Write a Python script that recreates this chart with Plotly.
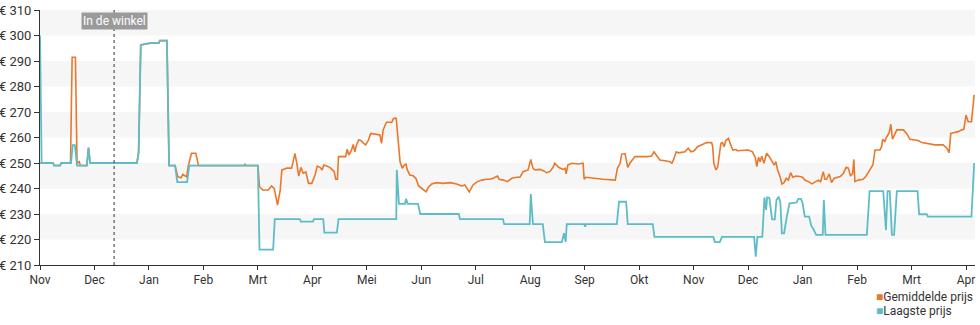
import plotly.graph_objects as go

# Month index: 0 = Nov (first year) ... 17 = Apr (third year)
maand_labels = ["Nov", "Dec", "Jan", "Feb", "Mrt", "Apr", "Mei", "Jun", "Jul",
                "Aug", "Sep", "Okt", "Nov", "Dec", "Jan", "Feb", "Mrt", "Apr"]

# Average price (Gemiddelde prijs)
gem_x = [0.00, 0.24, 0.26, 0.37, 0.39, 0.56, 0.59, 0.65, 0.68, 0.72, 0.74, 0.86, 0.89, 0.92,
         1.78, 1.81, 1.85, 2.02, 2.18, 2.20, 2.33, 2.37, 2.48, 2.53, 2.59, 2.62, 2.69, 2.72,
         2.78, 2.86, 2.91, 3.75, 3.76, 3.78, 4.00, 4.03, 4.09, 4.19, 4.25, 4.30, 4.33, 4.36,
         4.41, 4.44, 4.47, 4.53, 4.62, 4.68, 4.72, 4.75, 4.79, 4.83, 4.88, 4.93, 4.99, 5.05,
         5.09, 5.14, 5.18, 5.21, 5.26, 5.32, 5.37, 5.40, 5.43, 5.46, 5.48, 5.61, 5.64, 5.67,
         5.72, 5.75, 5.78, 5.81, 5.85, 5.89, 5.94, 5.98, 6.03, 6.07, 6.24, 6.27, 6.30, 6.36,
         6.46, 6.49, 6.54, 6.58, 6.61, 6.65, 6.68, 6.72, 6.74, 6.79, 6.85, 6.90, 6.95, 7.01,
         7.09, 7.13, 7.19, 7.28, 7.40, 7.53, 7.65, 7.74, 7.80, 7.88, 7.95, 8.03, 8.11, 8.20,
         8.26, 8.32, 8.40, 8.43, 8.51, 8.58, 8.66, 8.75, 8.81, 8.87, 8.96, 9.01, 9.05, 9.09,
         9.18, 9.24, 9.30, 9.36, 9.42, 9.45, 9.52, 9.60, 9.64, 9.66, 9.69, 9.76, 9.88, 9.97,
         9.99, 10.02, 10.16, 10.34, 10.56, 10.60, 10.65, 10.68, 10.74, 10.79, 10.83, 10.92,
         11.14, 11.23, 11.27, 11.32, 11.38, 11.47, 11.57, 11.60, 11.63, 11.68, 11.72, 11.84,
         11.90, 11.95, 12.01, 12.07, 12.15, 12.24, 12.33, 12.35, 12.37, 12.41, 12.44, 12.47,
         12.50, 12.53, 12.56, 12.59, 12.64, 12.67, 12.72, 12.78, 12.80, 13.00, 13.08, 13.13,
         13.16, 13.19, 13.22, 13.25, 13.29, 13.34, 13.39, 13.43, 13.48, 13.51, 13.54, 13.59,
         13.62, 13.66, 13.70, 13.74, 13.78, 13.82, 13.88, 13.95, 14.00, 14.04, 14.11, 14.17,
         14.23, 14.29, 14.33, 14.38, 14.41, 14.44, 14.49, 14.53, 14.58, 14.63, 14.69, 14.75,
         14.80, 14.84, 14.88, 14.92, 14.94, 14.96, 15.02, 15.11, 15.16, 15.24, 15.29, 15.33,
         15.42, 15.45, 15.47, 15.51, 15.54, 15.59, 15.62, 15.65, 15.68, 15.73, 15.85, 15.91,
         15.97, 16.06, 16.12, 16.19, 16.31, 16.43, 16.58, 16.65, 16.69, 16.72, 16.77, 16.86,
         16.92, 16.96, 17.00, 17.04, 17.10, 17.15]
gem_prijs = [250, 250, 249, 249, 250, 250, 291.5, 291.5, 250, 250.5, 249, 249, 256, 250,
             250, 254, 296.3, 297, 297, 298, 298, 249, 249, 244.6, 244.2, 245.5, 244.6, 248.6,
             253.8, 253.8, 249, 249, 249.6, 249, 249, 240.7, 239.4, 239.4, 241, 240, 236.8, 233.5,
             239.4, 247.3, 247.5, 248, 248, 253.8, 249.2, 244.9, 248.3, 246, 246.5, 242, 242, 245.3,
             248.8, 248.3, 247.3, 249.2, 248.8, 248.3, 247.3, 246.6, 243.6, 243.6, 252.5, 252.5, 255.4, 253.1,
             255.1, 257.3, 254.4, 257.1, 259, 258.8, 257.7, 257.1, 259, 261.6, 261, 257.7, 263, 266,
             266, 267.5, 267.5, 257.7, 250.5, 247.9, 249, 249.6, 247.5, 245.3, 245, 244, 241, 240,
             238.7, 240.5, 241.8, 242.3, 242, 242.3, 241.8, 241, 241.4, 238.7, 241.4, 242.7, 243.3, 243.6,
             243.6, 244, 244.9, 243.6, 243.3, 242.7, 244, 244.4, 244.4, 246.6, 247.3, 251.4, 247.9, 247.3,
             247.5, 247, 246.2, 246.6, 248.3, 249.9, 248.3, 247.5, 247.9, 245.7, 249.2, 249.9, 249.6, 249.9,
             243.6, 244.4, 244, 243.6, 243.3, 247.9, 249.9, 253.5, 253.7, 248.3, 249.9, 252.5,
             252.5, 252.7, 254.4, 252.7, 251.2, 250.9, 250.5, 249.9, 251.2, 254.4, 254, 254.4,
             255.8, 254.4, 254.8, 256.4, 257.1, 258, 258, 256.4, 249.9, 247.3, 248.3, 253.1,
             257.7, 258, 256.4, 258.8, 259.7, 257.7, 255.1, 255.3, 254.8, 255.1, 254.4, 252.2,
             248.6, 252.2, 250.5, 252.7, 249.9, 253.8, 252.5, 250.9, 249.2, 250.5, 247.3, 244.4,
             241.8, 242.3, 244, 243.3, 246.2, 244.4, 244.9, 244.7, 244.4, 243.3, 242.7, 241.8,
             242.7, 243.3, 242.7, 246.6, 243.6, 243.6, 245.7, 242.3, 244, 244.4, 244.7, 246,
             248.3, 248, 244.9, 246, 251.4, 242.7, 243.3, 243.6, 244.7, 247.5, 249.2, 255.1,
             255.1, 256.4, 259.3, 258.4, 260.1, 261.9, 265.2, 259.3, 261, 263, 263, 261.6,
             259.3, 259, 258.8, 258, 257.7, 257.1, 257.1, 255.8, 254, 261.6, 261.9, 262.3,
             263, 263.2, 268.8, 266.2, 266.2, 276.7]

# Lowest price (Laagste prijs)
laag_x = [0.00, 0.03, 0.24, 0.26, 0.37, 0.39, 0.57, 0.60, 0.64, 0.68, 0.86, 0.89, 0.92,
          1.78, 1.81, 1.85, 2.02, 2.18, 2.20, 2.33, 2.37, 2.48, 2.52, 2.70, 2.74, 4.00, 4.03,
          4.28, 4.31, 4.77, 4.79, 5.01, 5.03, 5.20, 5.22, 5.45, 5.48, 6.54, 6.55, 6.59, 6.70,
          6.72, 6.75, 6.94, 6.98, 7.69, 7.71, 8.50, 8.52, 8.99, 9.01, 9.05, 9.23, 9.27, 9.58,
          9.62, 9.65, 9.67, 9.99, 10.01, 10.02, 10.59, 10.63, 10.76, 10.79, 11.25, 11.28,
          12.36, 12.39, 12.48, 12.52, 13.11, 13.14, 13.17, 13.26, 13.30, 13.33, 13.35, 13.39,
          13.44, 13.49, 13.52, 13.56, 13.59, 13.62, 13.66, 13.71, 13.76, 13.89, 13.92, 13.97,
          14.00, 14.04, 14.12, 14.16, 14.19, 14.25, 14.37, 14.39, 14.42, 15.18, 15.23, 15.48,
          15.53, 15.56, 15.60, 15.64, 15.68, 15.73, 16.11, 16.14, 16.28, 16.30, 17.10, 17.15]
laag_prijs = [300, 250, 250, 249, 249, 250, 250, 257, 257, 249, 249, 256, 250,
              250, 254, 296.3, 297, 297, 298, 298, 249, 249, 242.5, 242.5, 249, 249, 216,
              216, 228, 228, 227, 227, 228, 228, 222.7, 222.7, 228, 228, 247.3, 234, 234,
              236, 234, 234, 230, 230, 228, 228, 226, 226, 237.8, 226, 226, 219, 219,
              222.5, 219, 226, 226, 225, 226, 226, 234.8, 234.8, 226, 226, 221,
              221, 219, 219, 221, 221, 213.3, 221, 221, 236.5, 231.6, 236.5, 236.3,
              227.9, 227.9, 235.5, 236.8, 234.8, 222.4, 222.4, 229, 234.2, 234.5, 235.9, 235.9,
              234.2, 229, 229, 225.3, 224.4, 221.8, 221.8, 235.5, 221.8, 221.8, 239, 239,
              223.7, 239, 239, 221.8, 221.8, 239, 239, 229.9, 229.9, 229, 229, 250]

# Price band edges and axis ticks
band_onder = [300, 280, 260, 240, 220]
y_ticks = list(range(210, 311, 10))
winkel_maand = 1.36

ORANJE = "#EA782B"
BLAUW = "#5DBDC7"
TEKST = "#333333"

series = [("Gemiddelde prijs", gem_x, gem_prijs, ORANJE, 1.6),
          ("Laagste prijs", laag_x, laag_prijs, BLAUW, 1.8)]

fig = go.Figure()
for naam, xs, ys, kleur, dikte in series:
    fig.add_trace(go.Scatter(x=xs, y=ys, mode="lines", name=naam,
                             line=dict(color=kleur, width=dikte)))

# alternating horizontal bands
for lo in band_onder:
    fig.add_shape(type="rect", xref="paper", yref="y", x0=0, x1=1, y0=lo, y1=lo + 10,
                  fillcolor="#f6f6f6", line_width=0, layer="below")

# in-store marker
fig.add_shape(type="line", xref="x", yref="paper", x0=winkel_maand, x1=winkel_maand,
              y0=0, y1=1, line=dict(color=TEKST, width=1, dash="dot"))
fig.add_annotation(x=winkel_maand, y=1, xref="x", yref="paper", yanchor="top",
                   yshift=-2, text="In de winkel", showarrow=False,
                   font=dict(family="Roboto", size=12, color="white"),
                   bgcolor="#9a9a9a", borderpad=1)

# compact legend below the plot, bottom right
for i, (naam, _, _, kleur, _) in enumerate(series):
    fig.add_annotation(x=0.8925, y=-0.125 - i * 0.055, xref="paper", yref="paper",
                       xanchor="left", yanchor="middle", showarrow=False,
                       text=f"<span style='color:{kleur}'>■</span>{naam}",
                       font=dict(family="Roboto", size=12, color=TEKST))

fig.update_layout(
    width=980, height=325,
    margin=dict(l=40, r=5, t=10, b=60, autoexpand=False),
    paper_bgcolor="white", plot_bgcolor="white",
    font=dict(family="Roboto", size=12, color=TEKST),
    showlegend=False,
    xaxis=dict(range=[0, 17.165], tickmode="array", tickvals=list(range(len(maand_labels))),
               ticktext=maand_labels, showgrid=False, zeroline=False, automargin=False,
               showline=True, linecolor=TEKST, linewidth=1,
               ticks="outside", ticklen=4, tickcolor=TEKST,
               tickfont=dict(size=12, color=TEKST)),
    yaxis=dict(range=[210, 310], tickmode="array", tickvals=y_ticks,
               ticktext=[f"€ {v}" for v in y_ticks], showgrid=False, zeroline=False,
               automargin=False, showline=True, linecolor=TEKST, linewidth=1,
               ticks="outside", ticklen=5, tickcolor=TEKST,
               tickfont=dict(size=13, color=TEKST)),
)

fig.write_html("out.html")
